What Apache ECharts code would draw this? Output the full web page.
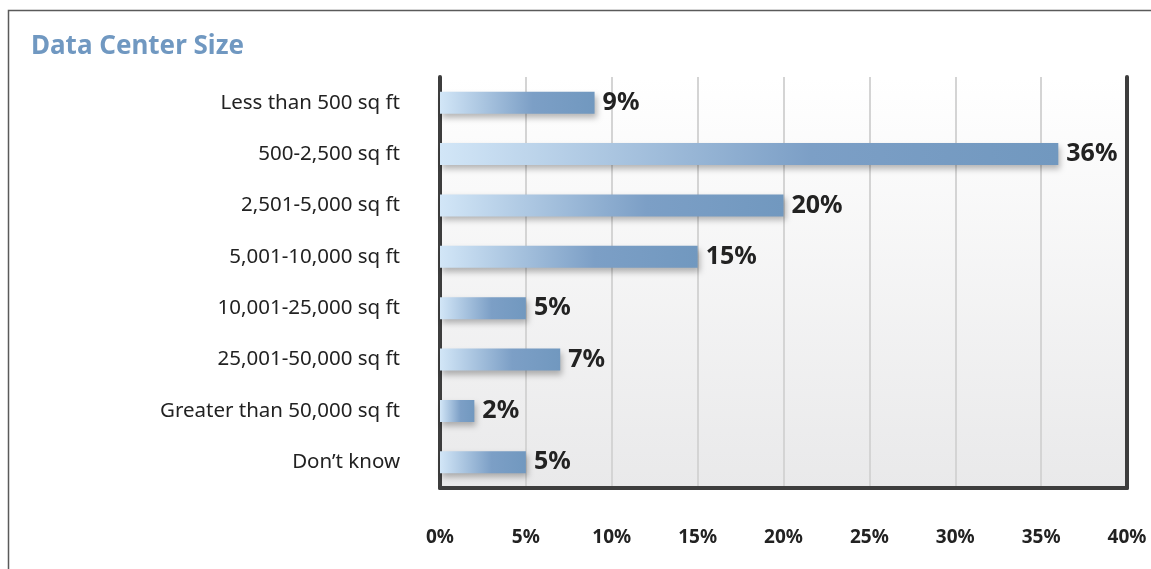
<!DOCTYPE html>
<html>
<head>
<meta charset="utf-8">
<script src="https://cdn.jsdelivr.net/npm/echarts@6/dist/echarts.min.js"></script>
<style>
html,body{margin:0;padding:0;background:#fff;}
#c{width:1151px;height:569px;}
</style>
</head>
<body>
<div id="c"></div>
<script>
const categories = [
  "Less than 500 sq ft",
  "500-2,500 sq ft",
  "2,501-5,000 sq ft",
  "5,001-10,000 sq ft",
  "10,001-25,000 sq ft",
  "25,001-50,000 sq ft",
  "Greater than 50,000 sq ft",
  "Don\u2019t know"
];
const values = [9, 36, 20, 15, 5, 7, 2, 5];
const axisMin = 0, axisMax = 40, axisStep = 5;

const FONT = "'Noto Sans', 'Open Sans', sans-serif";
const chart = echarts.init(document.getElementById('c'));
chart.setOption({
  animation: false,
  backgroundColor: '#ffffff',
  textStyle: { fontFamily: FONT },
  title: {
    text: 'Data Center Size',
    left: 26, top: 29,
    textStyle: { fontFamily: FONT, fontSize: 26, fontWeight: 'bold', color: '#7098c1' }
  },
  graphic: [{
    type: 'rect', left: 6, top: 8, z: -10,
    shape: { width: 1300, height: 700 },
    style: { fill: 'none', stroke: '#5a5a5a', lineWidth: 1.5 }
  }],
  grid: {
    left: 440, right: 24, top: 77, bottom: 81,
    show: true, borderWidth: 0,
    backgroundColor: new echarts.graphic.LinearGradient(0, 0, 0, 1, [
      { offset: 0, color: '#ffffff' },
      { offset: 1, color: '#e9e9ea' }
    ])
  },
  xAxis: {
    type: 'value', min: axisMin, max: axisMax, interval: axisStep,
    axisLine: { show: true, onZero: false, lineStyle: { color: '#3d3d3d', width: 4 } },
    axisTick: { show: false },
    axisLabel: { formatter: '{value}%', margin: 40, fontSize: 19, fontWeight: 'bold', color: '#222', fontFamily: FONT },
    splitLine: { show: true, lineStyle: { color: '#d4d4d4', width: 2 } }
  },
  yAxis: [{
    type: 'category', data: categories, inverse: true,
    axisLine: { show: true, lineStyle: { color: '#3d3d3d', width: 4 } },
    axisTick: { show: false },
    axisLabel: { fontSize: 20.5, color: '#222', margin: 40, fontFamily: FONT }
  }, {
    type: 'category', data: categories, inverse: true, position: 'right',
    axisLine: { show: true, lineStyle: { color: '#3d3d3d', width: 4 } },
    axisTick: { show: false }, axisLabel: { show: false }
  }],
  series: [{
    type: 'bar', data: values, barWidth: 22,
    itemStyle: {
      color: new echarts.graphic.LinearGradient(0, 0, 1, 0, [
        { offset: 0, color: '#d2e6f7' },
        { offset: 0.6, color: '#7c9fc6' },
        { offset: 1, color: '#7198bf' }
      ]),
      shadowColor: 'rgba(0,0,0,0.28)', shadowBlur: 6, shadowOffsetY: 4, shadowOffsetX: 2
    },
    label: {
      show: true, position: 'right', distance: 8, formatter: '{c}%',
      fontSize: 25, fontWeight: 'bold', color: '#222', fontFamily: FONT
    }
  }]
});
</script>
</body>
</html>
